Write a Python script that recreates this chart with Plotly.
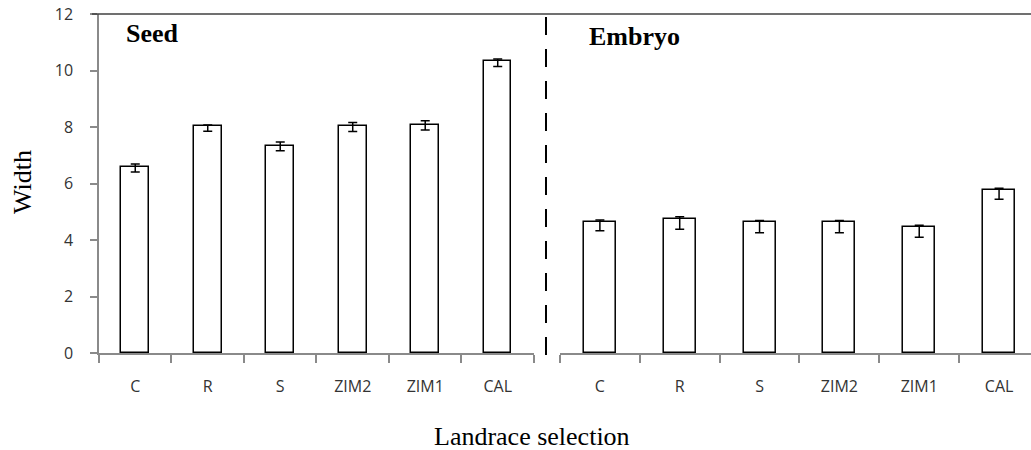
import plotly.graph_objects as go

categories = ["C", "R", "S", "ZIM2", "ZIM1", "CAL"]

seed_width = [6.59, 8.02, 7.34, 8.04, 8.08, 10.35]
seed_err_plus = [0.10, 0.05, 0.13, 0.12, 0.14, 0.06]
seed_err_minus = [0.18, 0.17, 0.18, 0.20, 0.19, 0.21]

embryo_width = [4.63, 4.74, 4.63, 4.63, 4.45, 5.77]
embryo_err_plus = [0.08, 0.08, 0.06, 0.06, 0.07, 0.06]
embryo_err_minus = [0.30, 0.36, 0.37, 0.37, 0.35, 0.33]

y_ticks = [0, 2, 4, 6, 8, 10, 12]

fig = go.Figure()

bar_style = dict(marker=dict(color="white", line=dict(color="black", width=1.5)),
                 showlegend=False, hoverinfo="x+y")

fig.add_trace(go.Bar(
    x=categories, y=seed_width, width=0.38, xaxis="x", yaxis="y",
    error_y=dict(type="data", symmetric=False, array=seed_err_plus,
                 arrayminus=seed_err_minus, color="black", thickness=1.5, width=4.5),
    **bar_style))

fig.add_trace(go.Bar(
    x=categories, y=embryo_width, width=0.40, xaxis="x2", yaxis="y2",
    error_y=dict(type="data", symmetric=False, array=embryo_err_plus,
                 arrayminus=embryo_err_minus, color="black", thickness=1.5, width=4.5),
    **bar_style))

tick_font = dict(family="Open Sans, Liberation Sans, sans-serif", size=16, color="#333333")
serif = "Liberation Serif, Times New Roman, serif"
axis_gray = "#8a8a8a"

W, PL, PT, PH = 932, 99, 14, 339

fig.update_layout(
    width=1031, height=450,
    margin=dict(l=99, r=0, t=14, b=97, autoexpand=False),
    paper_bgcolor="white", plot_bgcolor="white",
    bargap=0,
    xaxis=dict(domain=[0, 0.4667], type="category", range=[-0.5, 5.5],
               showline=True, linecolor=axis_gray, linewidth=1.5,
               ticks="outside", tickson="boundaries", ticklen=8, tickcolor=axis_gray,
               tickwidth=1.5, tickfont=tick_font, showgrid=False, zeroline=False,
               anchor="y", ticklabelstandoff=18, automargin=False),
    xaxis2=dict(domain=[0.4946, 1], type="category", range=[-0.5, 5.4],
                showline=True, linecolor=axis_gray, linewidth=1.5,
                ticks="outside", tickson="boundaries", ticklen=8, tickcolor=axis_gray,
                tickwidth=1.5, tickfont=tick_font, showgrid=False, zeroline=False,
                anchor="y2", ticklabelstandoff=18, automargin=False),
    yaxis=dict(range=[0, 12], tickvals=y_ticks, showline=True, linecolor=axis_gray,
               linewidth=1.5, ticks="outside", ticklen=7, tickcolor=axis_gray,
               tickwidth=1.5, tickfont=tick_font, showgrid=False, zeroline=False,
               anchor="x", ticklabelstandoff=14, automargin=False),
    yaxis2=dict(range=[0, 12], visible=False, anchor="x2", matches="y"),
)

fig.add_annotation(text="Width", xref="paper", yref="paper", textangle=-90,
                   x=-(PL - 22) / W, y=1 - (182 - PT) / PH, xanchor="center", yanchor="middle",
                   showarrow=False, font=dict(family=serif, size=26, color="black"))

fig.add_annotation(text="Landrace selection", xref="paper", yref="paper",
                   x=(532 - PL) / W, y=-(436 - 353) / PH, xanchor="center", yanchor="middle",
                   showarrow=False, font=dict(family=serif, size=26, color="black"))

fig.add_annotation(text="<b>Seed</b>", xref="paper", yref="paper",
                   x=(124 - PL) / W, y=1 - (33 - PT) / PH, xanchor="left", yanchor="middle",
                   showarrow=False, font=dict(family=serif, size=26, color="black"))
fig.add_annotation(text="<b>Embryo</b>", xref="paper", yref="paper",
                   x=(587 - PL) / W, y=1 - (36 - PT) / PH, xanchor="left", yanchor="middle",
                   showarrow=False, font=dict(family=serif, size=26, color="black"))

# top border line
fig.add_shape(type="line", xref="paper", yref="paper", x0=-7 / W, x1=1, y0=1, y1=1,
              line=dict(color="#404040", width=1.5))
# dashed separator (drawn bottom-up so the dash pattern starts at the axis)
fig.add_shape(type="line", xref="paper", yref="paper", x0=(546 - PL) / W, x1=(546 - PL) / W,
              y0=-2 / PH, y1=1, line=dict(color="black", width=2, dash="18px,14px"))

fig.write_html("out.html", config={"displayModeBar": False},
               post_script="document.body.style.margin='0';")
